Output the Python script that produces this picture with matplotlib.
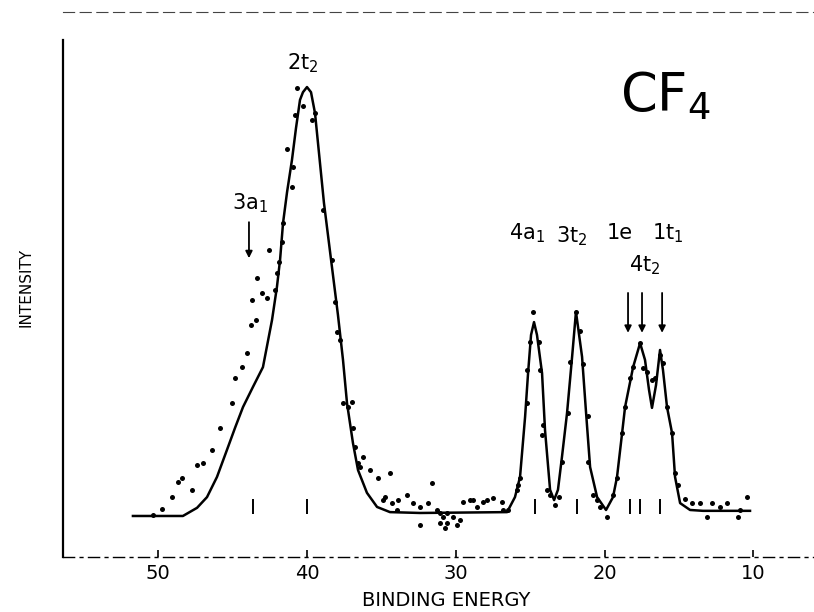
import numpy as np
import matplotlib
matplotlib.use("Agg")
import matplotlib.pyplot as plt

plt.rcParams['font.family'] = ['DejaVu Sans']

# == fitted curve == #
fit_E = [51.70, 48.34, 47.39, 46.72, 46.05, 45.38, 44.82, 44.30, 43.63, 42.96,
         42.35, 42.02, 41.81, 41.61, 41.34, 41.01, 40.74, 40.47, 40.27, 40.00,
         39.73, 39.46, 38.86, 38.32, 37.92, 37.58, 37.31, 36.91, 36.57, 35.97,
         35.29, 34.42, 32.40, 26.55, 26.02, 25.68, 25.34, 25.14, 24.94, 24.74,
         24.54, 24.20, 24.00, 23.66, 23.39, 23.13, 22.86, 22.52, 22.18, 21.92,
         21.51, 21.24, 20.97, 20.50, 19.90, 19.43, 19.16, 18.82, 18.62, 18.08,
         17.61, 17.28, 17.01, 16.81, 16.54, 16.27, 16.07, 15.80, 15.46, 15.26,
         14.92, 14.25, 13.38, 10.22]
fit_I = [0.0, 0.0, 1.9, 4.4, 9.1, 15.4, 20.7, 25.4, 30.1, 34.7,
         45.7, 53.4, 59.7, 68.3, 75.5, 83.0, 90.4, 97.0, 98.8, 100.0,
         98.8, 93.9, 73.0, 58.0, 46.9, 36.4, 26.3, 17.0, 10.7, 5.4,
         2.1, 0.9, 0.7, 0.9, 4.4, 9.1, 23.1, 33.3, 42.2, 45.2,
         42.2, 33.3, 20.0, 6.1, 3.7, 6.1, 13.8, 24.0, 37.1, 47.6,
         37.1, 24.0, 11.4, 4.4, 1.4, 4.4, 9.1, 19.3, 25.4, 34.7,
         40.3, 36.4, 29.4, 25.2, 30.5, 38.7, 34.0, 25.4, 19.3, 9.1,
         3.0, 1.4, 1.2, 1.2]

# == measured points == #
dot_E = [50.35, 49.75, 49.08, 48.67, 48.40, 47.73, 47.39, 46.99, 46.39, 45.85,
         45.04, 44.84, 44.37, 44.03, 43.76, 43.43, 43.70, 43.03, 42.69, 43.36,
         42.15, 42.02, 41.88, 42.55, 41.68, 41.61, 41.01, 40.94, 41.34, 40.81,
         40.27, 40.67, 39.46, 39.66, 38.92, 38.32, 38.12, 37.98, 37.78, 37.58,
         37.24, 36.97, 36.91, 36.77, 36.24, 36.57, 36.44, 35.76, 35.23, 34.42,
         34.89, 34.76, 34.29, 33.88, 33.95, 33.28, 32.87, 32.40, 32.40, 31.87,
         31.60, 31.26, 30.86, 31.06, 30.59, 30.72, 29.92, 29.71, 29.51, 29.04,
         28.57, 28.84, 28.17, 27.90, 27.50, 26.89, 26.49, 30.59, 30.18, 31.06,
         26.82, 25.88, 25.82, 25.68, 25.21, 25.21, 25.01, 24.81, 24.40, 24.34,
         24.20, 24.13, 23.87, 23.66, 23.33, 23.06, 22.86, 22.45, 22.32, 21.92,
         21.65, 21.45, 21.11, 21.11, 20.77, 20.50, 20.30, 19.83, 19.43, 19.16,
         18.82, 18.62, 18.29, 18.08, 17.61, 17.41, 17.14, 16.81, 16.61, 16.27,
         16.07, 15.80, 15.46, 15.26, 15.06, 14.59, 14.12, 13.58, 13.11, 12.77,
         12.24, 11.76, 10.89, 11.03, 10.42]
dot_I = [0.2, 1.6, 4.4, 7.9, 8.9, 6.1, 11.9, 12.4, 15.4, 20.5,
         26.3, 32.2, 34.7, 38.0, 44.5, 45.7, 50.3, 52.0, 50.8, 55.5,
         52.7, 56.6, 59.2, 62.0, 63.9, 68.3, 76.7, 81.4, 85.5, 93.5,
         95.6, 99.8, 93.9, 92.3, 71.3, 59.7, 49.9, 42.9, 41.0, 26.3,
         25.4, 26.6, 20.5, 16.1, 13.8, 12.4, 11.4, 10.7, 8.9, 10.0,
         3.7, 4.4, 3.0, 3.7, 1.4, 4.9, 3.0, 2.1, -2.1, 3.0,
         7.7, 1.4, -0.2, -1.6, 0.7, -2.8, -2.1, -0.9, 3.3, 3.7,
         2.1, 3.7, 3.3, 3.7, 4.2, 3.3, 1.4, -1.6, -0.2, 0.7,
         1.4, 6.1, 7.2, 8.9, 26.3, 34.0, 40.6, 47.6, 40.6, 34.0,
         18.9, 21.2, 6.1, 4.9, 2.6, 4.4, 12.6, 24.0, 35.9, 47.6,
         43.1, 35.4, 23.3, 12.6, 4.9, 3.7, 2.1, -0.2, 4.9, 8.9,
         19.3, 25.4, 32.2, 34.7, 40.3, 34.5, 33.6, 31.7, 32.2, 37.5,
         35.7, 25.4, 19.3, 10.0, 7.2, 4.0, 3.0, 3.0, -0.2, 3.0,
         2.1, 3.0, 1.4, -0.2, 4.4]

# == orbital positions (short bars on the baseline) == #
bar_E = [43.63, 40.00, 24.67, 21.85, 18.29, 17.61, 16.27]

# == labels == #
peak_labels = ['2t$_2$', '3a$_1$', '4a$_1$', '3t$_2$', '1e', '1t$_1$', '4t$_2$']
label_E = [40.27, 43.83, 25.2, 22.18, 18.96, 15.73, 17.28]
label_I = [105.6, 73.0, 66.0, 65.3, 66.0, 66.0, 58.5]
arrow_E = [43.9, 18.42, 17.48, 16.13]
arrow_top = [68.5, 52.0, 52.0, 52.0]
arrow_tip = [60.1, 42.7, 42.7, 42.7]

fig = plt.figure(figsize=(8.14, 6.12), dpi=100)
ax = fig.add_axes([0.0774, 0.0899, 0.9226, 0.8905])

ax.plot(fit_E, fit_I, 'k-', lw=1.8)
ax.plot(dot_E, dot_I, 'ko', ms=3.6, mec='none')
ax.vlines(bar_E, 0.4, 4.0, colors='k', lw=1.4)

for lab, xe, yi in zip(peak_labels, label_E, label_I):
    ax.text(xe, yi, lab, fontsize=15, ha='center', va='center')

for xe, y0, y1 in zip(arrow_E, arrow_top, arrow_tip):
    ax.annotate('', xy=(xe, y1), xytext=(xe, y0),
                arrowprops=dict(arrowstyle='-|>', color='k', lw=1.3,
                                mutation_scale=10, shrinkA=0, shrinkB=0))

ax.text(15.93, 97.9, 'CF$_4$', fontsize=38, ha='center', va='center')

ax.set_xlim(56.4, 5.92)
ax.set_ylim(-9.56, 117.5)
ax.set_xticks([50, 40, 30, 20, 10])
ax.set_yticks([])
ax.tick_params(axis='x', direction='in', length=5, width=1.2, labelsize=14, pad=5)

# scanned frame: solid left edge starting a bit below the top, broken top/bottom lines
ax.spines['right'].set_visible(False)
ax.spines['left'].set_linewidth(1.6)
ax.spines['left'].set_bounds(-9.56, 111.0)
ax.spines['bottom'].set_linewidth(1.0)
ax.spines['bottom'].set_linestyle((0, (8, 4, 2, 4)))
ax.spines['top'].set_linewidth(0.8)
ax.spines['top'].set_linestyle((0, (10, 5)))
ax.spines['top'].set_color('#444444')

fig.text(0.548, 0.018, 'BINDING ENERGY', fontsize=14, ha='center', va='center')
fig.text(0.032, 0.53, 'INTENSITY', fontsize=11, ha='center', va='center', rotation=90)

fig.savefig('out.png', dpi=100)
